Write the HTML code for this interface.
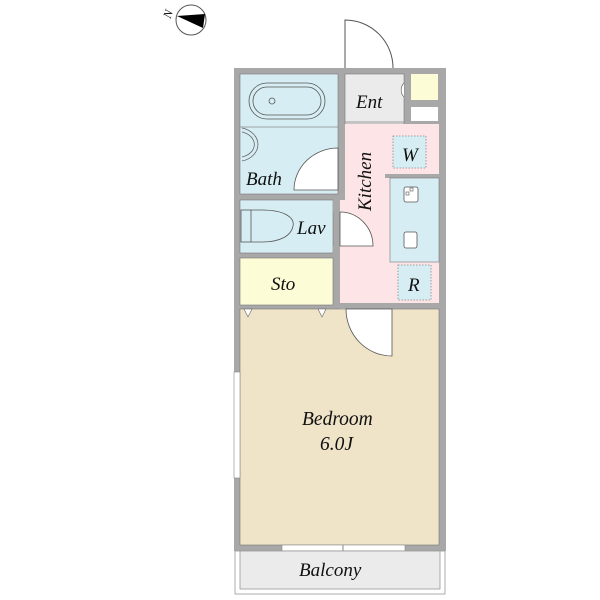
<!DOCTYPE html>
<html><head><meta charset="utf-8"><style>body{margin:0;background:#fff}svg{display:block}text{font-family:"Liberation Serif",serif;font-style:italic;fill:#111}</style></head>
<body>
<svg width="600" height="600" viewBox="0 0 600 600" xmlns="http://www.w3.org/2000/svg">
<!-- compass -->
<circle cx="191" cy="20" r="15" fill="#fff" stroke="#555" stroke-width="1"/>
<polygon points="177,16 205,14 203,28" fill="#000"/>
<text x="164" y="18" font-size="12" transform="rotate(-70 168 14)">N</text>
<!-- entrance door -->
<path d="M345,68 V20 A48,48 0 0 1 393,68" fill="none" stroke="#555" stroke-width="1"/>
<!-- outer wall -->
<rect x="234" y="68" width="212" height="483" fill="#a8a8a8"/>
<!-- bath -->
<rect x="240" y="74" width="98" height="120" fill="#d6eef3" stroke="#777" stroke-width="0.6"/>
<line x1="240" y1="127" x2="338" y2="127" stroke="#888" stroke-width="0.8"/>
<rect x="249" y="83" width="76" height="36" rx="18" fill="none" stroke="#555" stroke-width="0.8"/>
<rect x="253" y="87" width="68" height="28" rx="14" fill="none" stroke="#555" stroke-width="0.8"/>
<circle cx="272" cy="101" r="3" fill="none" stroke="#555" stroke-width="0.8"/>
<path d="M242,128 A21,17 0 0 1 242,161" fill="none" stroke="#666" stroke-width="0.8"/>
<path d="M242,132 A17,13 0 0 1 242,157" fill="none" stroke="#666" stroke-width="0.8"/>
<path d="M294,190 A44,42 0 0 1 338,148 V190 Z" fill="#fff" stroke="#555" stroke-width="0.8"/>
<text x="246" y="185" font-size="19">Bath</text>
<!-- ent -->
<rect x="345" y="74" width="59" height="50" fill="#ebebeb" stroke="#777" stroke-width="0.6"/>
<line x1="345" y1="122" x2="404" y2="122" stroke="#999"/>
<path d="M404,83 A10,10 0 0 0 404,97" fill="#fff" stroke="#555" stroke-width="0.6"/>
<text x="356" y="108" font-size="19">Ent</text>
<rect x="411" y="74" width="27" height="26" fill="#fcfcd6"/>
<rect x="411" y="107" width="27" height="14" fill="#fff"/>
<!-- kitchen -->
<path d="M340,124 H439 V303 H340 Z" fill="#fde4e6"/>
<rect x="340" y="124" width="5" height="76" fill="#a8a8a8"/>
<rect x="385" y="174" width="54" height="4" fill="#a8a8a8"/>
<rect x="390" y="178" width="49" height="84" fill="#d6eef3" stroke="#777" stroke-width="0.6"/>
<rect x="404" y="187" width="14" height="15" rx="2" fill="#fff" stroke="#555" stroke-width="0.8"/>
<rect x="406" y="192" width="3" height="3" fill="none" stroke="#555" stroke-width="0.6"/>
<rect x="410" y="188" width="3" height="3" fill="none" stroke="#555" stroke-width="0.6"/>
<rect x="404" y="232" width="13" height="16" rx="2" fill="#fff" stroke="#555" stroke-width="0.8"/>
<rect x="393" y="136" width="33" height="32" fill="#d6eef3" stroke="#888" stroke-width="0.8" stroke-dasharray="1.5,1.5"/>
<text x="402" y="161" font-size="19">W</text>
<rect x="398" y="265" width="33" height="35" fill="#d6eef3" stroke="#888" stroke-width="0.8" stroke-dasharray="1.5,1.5"/>
<text x="408" y="291" font-size="19">R</text>
<text x="0" y="0" font-size="19" transform="translate(371,211) rotate(-90)">Kitchen</text>
<!-- lav -->
<rect x="240" y="200" width="93" height="53" fill="#d6eef3" stroke="#777" stroke-width="0.6"/>
<rect x="241" y="210" width="10" height="32" fill="none" stroke="#555" stroke-width="0.8"/>
<path d="M251,210 H262 C285,210 295,218 293,226 C291,236 280,242 262,242 H251" fill="none" stroke="#555" stroke-width="0.8"/>
<path d="M340,212 A33,34 0 0 1 373,246 H340 Z" fill="#fff" stroke="#555" stroke-width="0.8"/>
<rect x="333" y="200" width="7" height="12" fill="#a8a8a8"/>
<rect x="333" y="246" width="7" height="57" fill="#a8a8a8"/>
<text x="297" y="234" font-size="19">Lav</text>
<!-- sto -->
<rect x="240" y="258" width="93" height="47" fill="#fcfcd6" stroke="#777" stroke-width="0.6"/>
<text x="271" y="290" font-size="19">Sto</text>
<!-- bedroom -->
<rect x="240" y="309" width="199" height="236" fill="#efe3c8" stroke="#777" stroke-width="0.6"/>
<rect x="340" y="303" width="6" height="6" fill="#a8a8a8"/>
<polygon points="244,309 252,309 248,317" fill="#fff" stroke="#666" stroke-width="0.6"/>
<polygon points="318,309 326,309 322,317" fill="#fff" stroke="#666" stroke-width="0.6"/>
<path d="M346,309 A46,47 0 0 0 392,356 V309 Z" fill="#fff" stroke="#555" stroke-width="0.8"/>
<text x="302" y="425" font-size="19.5">Bedroom</text>
<text x="320" y="450" font-size="19.5">6.0J</text>
<!-- left window -->
<rect x="234" y="372" width="6" height="106" fill="#fff" stroke="#888" stroke-width="0.6"/>
<!-- bottom window -->
<rect x="282" y="545" width="123" height="6" fill="#fff" stroke="#888" stroke-width="0.6"/>
<line x1="343" y1="545" x2="343" y2="551" stroke="#888"/>
<!-- balcony -->
<rect x="235" y="551" width="210" height="43" fill="#fff" stroke="#999" stroke-width="0.8"/>
<rect x="240" y="551" width="200" height="38" fill="#ebebeb" stroke="#999" stroke-width="0.8"/>
<text x="299" y="576" font-size="19">Balcony</text>
</svg>
</body></html>
